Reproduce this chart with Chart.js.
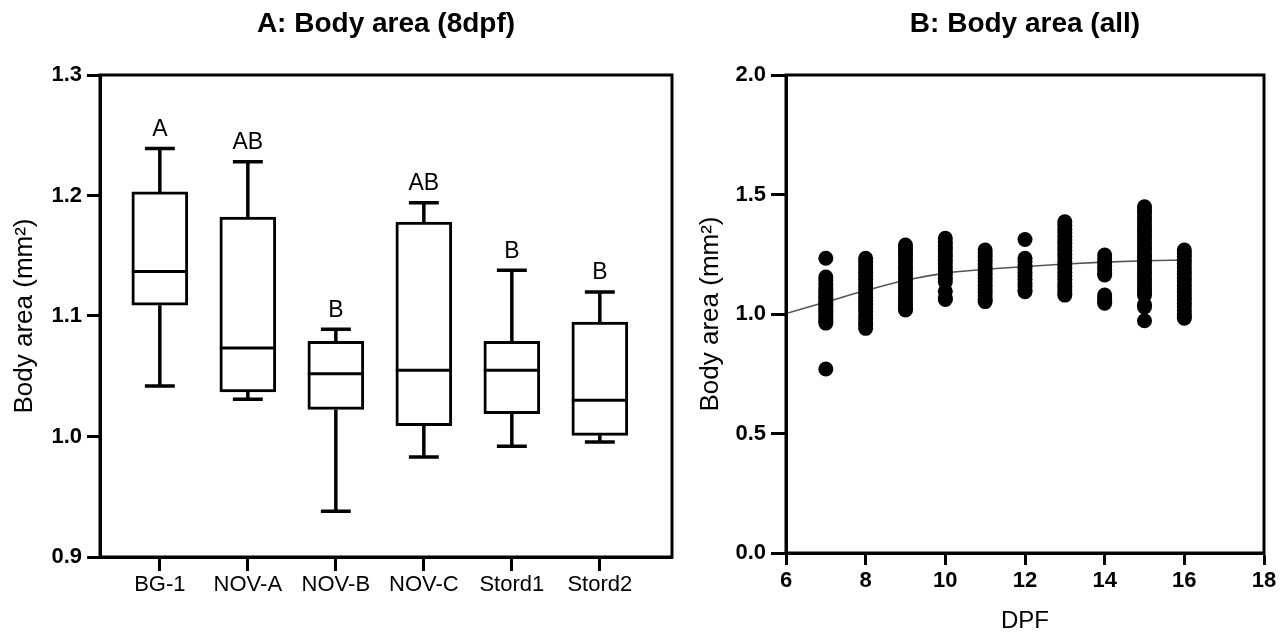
<!DOCTYPE html>
<html>
<head>
<meta charset="utf-8">
<script src="https://cdn.jsdelivr.net/npm/chart.js@4/dist/chart.umd.min.js"></script>
<style>
  html, body { margin: 0; padding: 0; background: #fff; }
  #wrap { position: relative; width: 1285px; height: 637px; overflow: hidden; background: #fff; }
  #left { position: absolute; left: 0; top: 0; }
  #right { position: absolute; left: 690px; top: 0; }
</style>
</head>
<body>
<div id="wrap">
  <canvas id="left" width="690" height="637"></canvas>
  <canvas id="right" width="595" height="637"></canvas>
</div>
<script>
// ---------- Panel A: box plot data ----------
const categories = ['BG-1', 'NOV-A', 'NOV-B', 'NOV-C', 'Stord1', 'Stord2'];
const whiskerMax = [1.239, 1.228, 1.089, 1.194, 1.138, 1.120];
const q3         = [1.203, 1.182, 1.079, 1.178, 1.079, 1.095];
const median     = [1.137, 1.0735, 1.052, 1.055, 1.055, 1.030];
const q1         = [1.109, 1.037, 1.0225, 1.009, 1.019, 1.001];
const whiskerMin = [1.042, 1.031, 0.938, 0.983, 0.992, 0.9955];
const letters    = ['A', 'AB', 'B', 'AB', 'B', 'B'];
const yTicksA    = [0.9, 1.0, 1.1, 1.2, 1.3];

// ---------- Panel B: scatter data (body area by DPF) ----------
const dpfValues = [7, 8, 9, 10, 11, 12, 13, 14, 15, 16];
const area7  = [1.233, 1.155, 1.14, 1.125, 1.11, 1.10, 1.09, 1.08, 1.07, 1.06, 1.05, 1.04, 1.03, 1.02, 1.01, 1.00, 0.99, 0.98, 0.97, 0.962, 0.77];
const area8  = [1.233, 1.22, 1.205, 1.19, 1.175, 1.16, 1.145, 1.13, 1.115, 1.10, 1.085, 1.07, 1.055, 1.04, 1.025, 1.01, 0.995, 0.98, 0.965, 0.955, 0.94];
const area9  = [1.289, 1.275, 1.26, 1.245, 1.23, 1.215, 1.20, 1.185, 1.17, 1.155, 1.14, 1.125, 1.11, 1.095, 1.08, 1.065, 1.05, 1.035, 1.025, 1.017];
const area10 = [1.317, 1.30, 1.285, 1.27, 1.255, 1.24, 1.225, 1.21, 1.195, 1.18, 1.165, 1.15, 1.135, 1.095, 1.067, 1.061];
const area11 = [1.268, 1.255, 1.24, 1.225, 1.21, 1.195, 1.18, 1.165, 1.15, 1.135, 1.12, 1.105, 1.09, 1.075, 1.062, 1.052];
const area12 = [1.312, 1.233, 1.22, 1.205, 1.19, 1.175, 1.16, 1.145, 1.13, 1.115, 1.10, 1.093];
const area13 = [1.386, 1.37, 1.355, 1.34, 1.325, 1.31, 1.295, 1.28, 1.265, 1.25, 1.235, 1.22, 1.205, 1.19, 1.175, 1.16, 1.145, 1.13, 1.115, 1.10, 1.088, 1.079];
const area14 = [1.247, 1.23, 1.215, 1.20, 1.185, 1.17, 1.163, 1.079, 1.065, 1.052, 1.045];
const area15 = [1.449, 1.435, 1.42, 1.405, 1.39, 1.375, 1.36, 1.345, 1.33, 1.315, 1.30, 1.285, 1.27, 1.255, 1.24, 1.225, 1.21, 1.195, 1.18, 1.165, 1.15, 1.135, 1.12, 1.105, 1.09, 1.079, 1.038, 1.03, 0.972];
const area16 = [1.268, 1.255, 1.24, 1.225, 1.21, 1.195, 1.18, 1.165, 1.15, 1.135, 1.12, 1.105, 1.09, 1.075, 1.06, 1.045, 1.03, 1.015, 1.00, 0.99, 0.982];
const areaByDpf = [area7, area8, area9, area10, area11, area12, area13, area14, area15, area16];

// fitted curve
const fitX = [6, 7, 8, 9, 10, 11, 12, 13, 14, 15, 16];
const fitY = [1.002, 1.05, 1.098, 1.141, 1.171, 1.187, 1.198, 1.209, 1.217, 1.223, 1.226];

// ---------- shared styling ----------
const FONT = "'Liberation Sans', Arial, Helvetica, sans-serif";
Chart.defaults.font.family = FONT;
Chart.defaults.color = '#000';

const framePlugin = {
  id: 'frame',
  afterDraw(chart) {
    const { ctx, chartArea: a } = chart;
    ctx.save();
    ctx.strokeStyle = '#000';
    ctx.lineWidth = 3;
    ctx.strokeRect(a.left, a.top, a.right - a.left, a.bottom - a.top);
    ctx.restore();
  }
};

// ---------- Panel A ----------
const BOX_HALF = 0.318;   // half box width in category units
const CAP_HALF = 0.17;    // half whisker-cap width in category units

const medianPts = [];
const whiskerPts = [];
categories.forEach((c, i) => {
  medianPts.push({ x: i - BOX_HALF, y: median[i] }, { x: i + BOX_HALF, y: median[i] }, { x: i, y: null });
  whiskerPts.push(
    { x: i, y: q3[i] }, { x: i, y: whiskerMax[i] }, { x: i, y: null },
    { x: i - CAP_HALF, y: whiskerMax[i] }, { x: i + CAP_HALF, y: whiskerMax[i] }, { x: i, y: null },
    { x: i, y: whiskerMin[i] }, { x: i, y: q1[i] }, { x: i, y: null },
    { x: i - CAP_HALF, y: whiskerMin[i] }, { x: i + CAP_HALF, y: whiskerMin[i] }, { x: i, y: null }
  );
});

const lettersPlugin = {
  id: 'letters',
  afterDatasetsDraw(chart) {
    const { ctx, scales: { x, y } } = chart;
    ctx.save();
    ctx.font = '23px ' + FONT;
    ctx.fillStyle = '#000';
    ctx.textAlign = 'center';
    ctx.textBaseline = 'middle';
    letters.forEach((t, i) => {
      ctx.fillText(t, x.getPixelForValue(i), y.getPixelForValue(whiskerMax[i]) - 19);
    });
    ctx.restore();
  }
};

new Chart(document.getElementById('left'), {
  type: 'bar',
  data: {
    datasets: [
      {
        type: 'bar',
        label: 'IQR',
        data: categories.map((c, i) => ({ x: i, y: [q1[i], q3[i]] })),
        backgroundColor: '#fff',
        borderColor: '#000',
        borderWidth: 3,
        borderSkipped: false,
        barThickness: 56,
        order: 3
      },
      {
        type: 'line',
        label: 'Median',
        data: medianPts,
        borderColor: '#000',
        borderWidth: 3,
        pointRadius: 0,
        spanGaps: false,
        borderCapStyle: 'butt',
        order: 1
      },
      {
        type: 'line',
        label: 'Whiskers',
        data: whiskerPts,
        borderColor: '#000',
        borderWidth: 3.5,
        pointRadius: 0,
        spanGaps: false,
        borderCapStyle: 'butt',
        order: 1
      }
    ]
  },
  options: {
    responsive: false,
    animation: false,
    layout: { padding: { left: 0, right: 18, top: 0, bottom: 0 } },
    plugins: {
      legend: { display: false },
      tooltip: { enabled: false },
      title: {
        display: true,
        text: 'A: Body area (8dpf)',
        fullSize: false,
        color: '#000',
        font: { size: 28, weight: 'bold', family: FONT },
        padding: { top: 7, bottom: 34.4 }
      }
    },
    scales: {
      x: {
        type: 'linear',
        min: -0.68,
        max: 5.82,
        offset: false,
        afterBuildTicks: (axis) => { axis.ticks = categories.map((c, i) => ({ value: i })); },
        afterFit: (s) => { s.height = 80; },
        ticks: {
          autoSkip: false,
          maxRotation: 0,
          padding: 1,
          font: { size: 22, family: FONT },
          color: '#000',
          callback: (v) => categories[v]
        },
        grid: { display: true, offset: false, drawOnChartArea: false, drawTicks: true, tickLength: 14, tickWidth: 3, tickColor: '#000', color: '#000' },
        border: { display: true, width: 3, color: '#000' }
      },
      y: {
        type: 'linear',
        min: 0.9,
        max: 1.3,
        afterBuildTicks: (axis) => { axis.ticks = yTicksA.map(v => ({ value: v })); },
        afterFit: (s) => { s.width = 100; },
        ticks: {
          padding: 5,
          font: { size: 22, weight: 'bold', family: FONT },
          color: '#000',
          callback: (v) => Number(v).toFixed(1)
        },
        grid: { display: true, drawOnChartArea: false, drawTicks: true, tickLength: 13, tickWidth: 3, tickColor: '#000', color: '#000' },
        border: { display: true, width: 3, color: '#000' },
        title: {
          display: true,
          text: 'Body area (mm²)',
          color: '#000',
          font: { size: 26, family: FONT },
          padding: { top: 9, bottom: 0 }
        }
      }
    }
  },
  plugins: [framePlugin, lettersPlugin]
});

// ---------- Panel B ----------
const scatterPts = [];
dpfValues.forEach((d, i) => {
  areaByDpf[i].forEach(v => scatterPts.push({ x: d, y: v }));
});

new Chart(document.getElementById('right'), {
  type: 'scatter',
  data: {
    datasets: [
      {
        type: 'scatter',
        label: 'Body area',
        data: scatterPts,
        backgroundColor: '#000',
        borderColor: '#000',
        borderWidth: 0,
        pointRadius: 7.5,
        order: 1
      },
      {
        type: 'line',
        label: 'Fit',
        data: fitX.map((x, i) => ({ x, y: fitY[i] })),
        borderColor: '#555',
        borderWidth: 1.6,
        pointRadius: 0,
        cubicInterpolationMode: 'monotone',
        order: 2
      }
    ]
  },
  options: {
    responsive: false,
    animation: false,
    layout: { padding: { left: 0, right: 21, top: 0, bottom: 0 } },
    plugins: {
      legend: { display: false },
      tooltip: { enabled: false },
      title: {
        display: true,
        text: 'B: Body area (all)',
        fullSize: false,
        color: '#000',
        font: { size: 28, weight: 'bold', family: FONT },
        padding: { top: 7, bottom: 34.4 }
      }
    },
    scales: {
      x: {
        type: 'linear',
        min: 6,
        max: 18,
        afterFit: (s) => { s.height = 84; },
        ticks: {
          stepSize: 2,
          padding: 3,
          maxRotation: 0,
          font: { size: 22, weight: 'bold', family: FONT },
          color: '#000'
        },
        grid: { display: true, drawOnChartArea: false, drawTicks: true, tickLength: 12, tickWidth: 3, tickColor: '#000', color: '#000' },
        border: { display: true, width: 3, color: '#000' },
        title: {
          display: true,
          text: 'DPF',
          color: '#000',
          font: { size: 24, family: FONT },
          padding: { top: 0, bottom: 1 }
        }
      },
      y: {
        type: 'linear',
        min: 0,
        max: 2,
        afterFit: (s) => { s.width = 96; },
        ticks: {
          stepSize: 0.5,
          padding: 5,
          font: { size: 22, weight: 'bold', family: FONT },
          color: '#000',
          callback: (v) => Number(v).toFixed(1)
        },
        grid: { display: true, drawOnChartArea: false, drawTicks: true, tickLength: 15, tickWidth: 3, tickColor: '#000', color: '#000' },
        border: { display: true, width: 3, color: '#000' },
        title: {
          display: true,
          text: 'Body area (mm²)',
          color: '#000',
          font: { size: 26, family: FONT },
          padding: { top: 5, bottom: 0 }
        }
      }
    }
  },
  plugins: [framePlugin]
});
</script>
</body>
</html>
